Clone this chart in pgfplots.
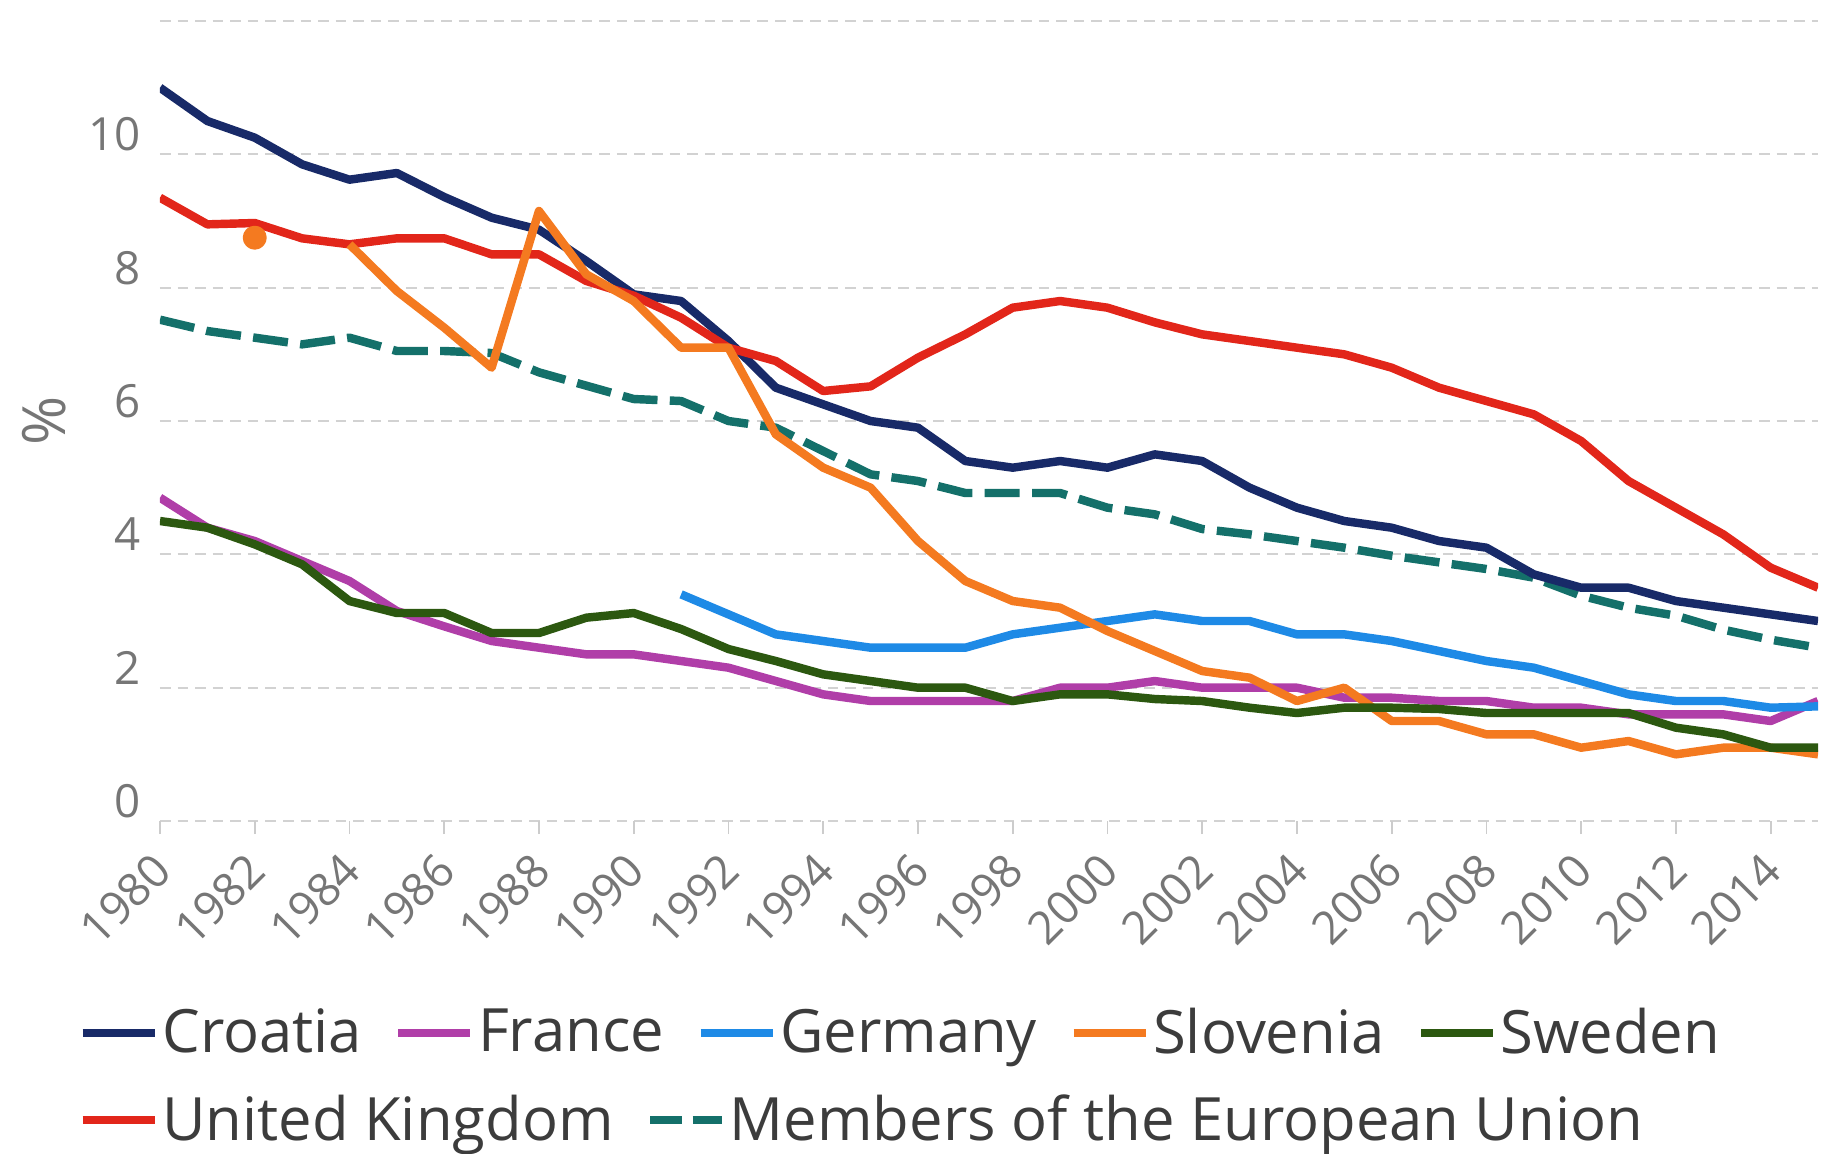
\documentclass[border=0pt]{standalone}
\usepackage{fontspec}
\setmainfont{Open Sans}
\usepackage{pgfplots}
\pgfplotsset{compat=1.18}
\usepackage{pgfplotstable}

\definecolor{cro}{RGB}{24,42,104}
\definecolor{fra}{RGB}{176,62,168}
\definecolor{ger}{RGB}{30,138,230}
\definecolor{slo}{RGB}{244,122,32}
\definecolor{swe}{RGB}{44,88,16}
\definecolor{uk}{RGB}{226,38,26}
\definecolor{eu}{RGB}{20,112,106}
\definecolor{ticktext}{RGB}{118,118,118}
\definecolor{legtext}{RGB}{60,60,60}

\pgfplotstableread{
year cro fra ger slo swe uk eu
1980 11.0 4.85 nan nan 4.5 9.35 7.52
1981 10.5 4.4 nan nan 4.4 8.95 7.35
1982 10.25 4.2 nan nan 4.15 8.97 7.25
1983 9.85 3.9 nan nan 3.85 8.74 7.15
1984 9.62 3.6 nan 8.65 3.3 8.65 7.25
1985 9.72 3.15 nan 7.95 3.12 8.74 7.05
1986 9.36 2.92 nan 7.4 3.12 8.74 7.05
1987 9.05 2.7 nan 6.8 2.82 8.5 7.02
1988 8.87 2.6 nan 9.15 2.82 8.5 6.73
1989 8.4 2.5 nan 8.2 3.05 8.1 6.53
1990 7.9 2.5 nan 7.8 3.12 7.88 6.33
1991 7.8 2.4 3.4 7.1 2.88 7.55 6.3
1992 7.2 2.3 3.1 7.1 2.58 7.1 6.0
1993 6.5 2.1 2.8 5.8 2.4 6.9 5.9
1994 6.25 1.9 2.7 5.3 2.2 6.45 5.55
1995 6.0 1.8 2.6 5.0 2.1 6.52 5.2
1996 5.9 1.8 2.6 4.2 2.0 6.95 5.1
1997 5.4 1.8 2.6 3.6 2.0 7.3 4.92
1998 5.3 1.8 2.8 3.3 1.8 7.7 4.92
1999 5.4 2.0 2.9 3.2 1.9 7.8 4.92
2000 5.3 2.0 3.0 2.85 1.9 7.7 4.7
2001 5.5 2.1 3.1 2.55 1.83 7.48 4.6
2002 5.4 2.0 3.0 2.25 1.8 7.3 4.38
2003 5.0 2.0 3.0 2.15 1.7 7.2 4.3
2004 4.7 2.0 2.8 1.8 1.62 7.1 4.2
2005 4.5 1.85 2.8 2.0 1.7 7.0 4.1
2006 4.4 1.85 2.7 1.5 1.7 6.8 3.98
2007 4.2 1.8 2.55 1.5 1.68 6.5 3.88
2008 4.1 1.8 2.4 1.3 1.62 6.3 3.78
2009 3.7 1.7 2.3 1.3 1.62 6.1 3.65
2010 3.5 1.7 2.1 1.1 1.62 5.7 3.38
2011 3.5 1.6 1.9 1.2 1.62 5.1 3.2
2012 3.3 1.6 1.8 1.0 1.4 4.7 3.08
2013 3.2 1.6 1.8 1.1 1.3 4.3 2.87
2014 3.1 1.5 1.7 1.1 1.1 3.8 2.72
2015 3.0 1.8 1.72 1.0 1.1 3.5 2.6
}\data

\begin{document}
\begin{tikzpicture}
\useasboundingbox (-1.60cm,-3.32cm) rectangle (16.65cm,8.21cm);
\pgfplotsset{
  legstyle/.style={
    legend style={at={(0,0)}, anchor=west, draw=none, fill=none, inner sep=0pt,
      font=\fontsize{17}{20}\selectfont, text=legtext,
      nodes={inner xsep=1pt},
      legend columns=-1,
      /tikz/every odd column/.append style={column sep=0pt},
      /tikz/every even column/.append style={column sep=2.9mm}},
    legend cell align=left,
    legend image code/.code={\draw[##1, line width=2.3pt] (0cm,0cm) -- (0.72cm,0cm);}
  }
}
\begin{axis}[
  at={(0,0)}, anchor=south west,
  width=16.58cm, height=8cm, scale only axis,
  xmin=1980, xmax=2015, ymin=0, ymax=12,
  xtick={1980,1982,...,2014},
  ytick={0,2,...,12},
  yticklabels={0,2,4,6,8,10,{}},
  xtick pos=bottom, ytick pos=left,
  axis line style={draw=none},
  ymajorgrids,
  major grid style={gray!35, line width=0.6pt, dash pattern=on 3pt off 2pt},
  tick align=outside, major tick length=1.3mm,
  xtick style={gray!40, line width=0.5pt},
  ytick style={draw=none},
  /pgf/number format/1000 sep={},
  /pgf/number format/assume math mode=true,
  tick label style={font=\fontsize{13}{15}\selectfont, text=ticktext},
  xticklabel style={xshift=0.5mm, rotate=45, anchor=east, inner sep=1pt},
  xticklabel shift=2.5mm,
  yticklabel style={xshift=0.6mm, yshift=2mm},
  ylabel={\%},
  ylabel style={at={(axis description cs:-0.07,0.5)}, anchor=center, font=\fontsize{17}{19}\selectfont, text=ticktext},
  unbounded coords=jump,
  legstyle,
  legend style={xshift=-8.2mm, yshift=-21.2mm},
  every axis plot/.append style={line width=2.4pt, line join=round},
]
\addplot[eu, dash pattern=on 10pt off 3.5pt, forget plot] table[x=year, y=eu] {\data};
\addplot[cro] table[x=year, y=cro] {\data};
\addplot[uk, forget plot] table[x=year, y=uk] {\data};
\addplot[fra] table[x=year, y=fra] {\data};
\addplot[ger] table[x=year, y=ger] {\data};
\addplot[slo] table[x=year, y=slo] {\data};
\addplot[swe] table[x=year, y=swe] {\data};
\addplot[slo, only marks, mark=*, mark size=2.2pt, forget plot] coordinates {(1982,8.75)};
\legend{Croatia, France, Germany, Slovenia, Sweden}
\end{axis}
\begin{axis}[
  at={(0,0)}, anchor=south west,
  width=16.58cm, height=8cm, scale only axis,
  hide axis, xmin=0, xmax=1, ymin=0, ymax=1,
  legstyle,
  legend style={xshift=-8.2mm, yshift=-29.9mm},
]
\addlegendimage{uk}
\addlegendentry{United Kingdom}
\addlegendimage{eu, dash pattern=on 9pt off 3pt}
\addlegendentry{Members of the European Union}
\end{axis}
\end{tikzpicture}
\end{document}
